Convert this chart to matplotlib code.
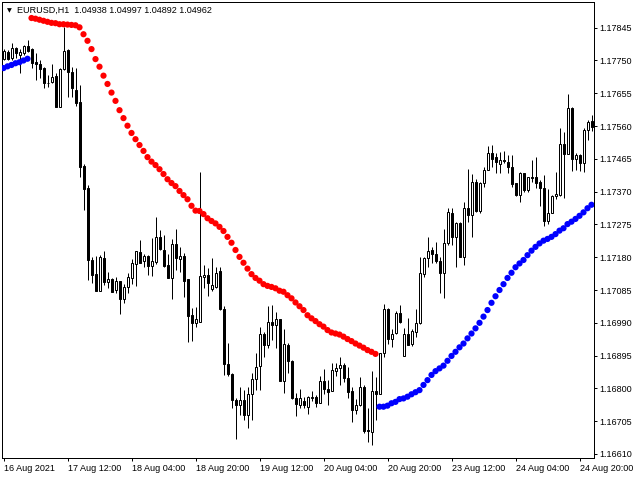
#!/usr/bin/python
# Redraw of an MT4 style H1 candle chart with a dotted trailing indicator.
# Red dots ride above price while the trend is down, blue ones below it
# while the trend is up.

import matplotlib
matplotlib.use("Agg")
import matplotlib.pyplot as plt
from matplotlib.patches import Rectangle

# header
symbol = "EURUSD,H1"
header_quote = [1.04938, 1.04997, 1.04892, 1.04962]

# time axis labels (every 16 bars)
xtick_bars = [0, 16, 32, 48, 64, 80, 96, 112, 128, 144]
xtick_labels = ["16 Aug 2021", "17 Aug 12:00", "18 Aug 04:00", "18 Aug 20:00",
                "19 Aug 12:00", "20 Aug 04:00", "20 Aug 20:00", "23 Aug 12:00",
                "24 Aug 04:00", "24 Aug 20:00"]

# price axis labels
price_ticks = [1.17845, 1.17750, 1.17655, 1.17560, 1.17465, 1.17370, 1.17275,
               1.17180, 1.17085, 1.16990, 1.16895, 1.16800, 1.16705, 1.16610]

# OHLC data, one value per H1 bar
opens = [
    1.17754, 1.17775, 1.17756, 1.17785, 1.17766, 1.17772, 1.17792, 1.17783, 1.17745, 1.17740,
    1.17727, 1.17685, 1.17688, 1.17705, 1.17616, 1.17724, 1.17780, 1.17717, 1.17664, 1.17630,
    1.17444, 1.17380, 1.17172, 1.17131, 1.17083, 1.17178, 1.17109, 1.17118, 1.17085, 1.17111,
    1.17058, 1.17093, 1.17119, 1.17159, 1.17194, 1.17169, 1.17183, 1.17154, 1.17167, 1.17238,
    1.17201, 1.17157, 1.17120, 1.17217, 1.17176, 1.17183, 1.17116, 1.17012, 1.16990, 1.16993,
    1.17122, 1.17128, 1.17087, 1.17094, 1.17140, 1.17029, 1.16870, 1.16841, 1.16766, 1.16752,
    1.16766, 1.16723, 1.16783, 1.16827, 1.16866, 1.16959, 1.16926, 1.16991, 1.16984, 1.17000,
    1.16822, 1.16926, 1.16879, 1.16771, 1.16752, 1.16763, 1.16747, 1.16773, 1.16776, 1.16758,
    1.16821, 1.16797, 1.16793, 1.16851, 1.16858, 1.16868, 1.16829, 1.16792, 1.16737, 1.16751,
    1.16803, 1.16679, 1.16674, 1.16792, 1.16784, 1.16902, 1.17029, 1.16942, 1.16961, 1.17019,
    1.16894, 1.16957, 1.16928, 1.16964, 1.16990, 1.17131, 1.17177, 1.17201, 1.17188, 1.17169,
    1.17133, 1.17222, 1.17307, 1.17239, 1.17280, 1.17181, 1.17322, 1.17302, 1.17399, 1.17315,
    1.17394, 1.17434, 1.17483, 1.17469, 1.17450, 1.17461, 1.17456, 1.17440, 1.17394, 1.17360,
    1.17423, 1.17375, 1.17411, 1.17413, 1.17397, 1.17382, 1.17286, 1.17309, 1.17357, 1.17360,
    1.17508, 1.17479, 1.17611, 1.17466, 1.17476, 1.17452, 1.17548, 1.17575]

highs = [
    1.17783, 1.17780, 1.17800, 1.17790, 1.17782, 1.17795, 1.17809, 1.17785, 1.17772, 1.17751,
    1.17730, 1.17708, 1.17740, 1.17714, 1.17727, 1.17846, 1.17782, 1.17730, 1.17727, 1.17679,
    1.17449, 1.17389, 1.17181, 1.17185, 1.17186, 1.17199, 1.17138, 1.17119, 1.17123, 1.17112,
    1.17102, 1.17135, 1.17174, 1.17199, 1.17230, 1.17188, 1.17186, 1.17235, 1.17296, 1.17259,
    1.17244, 1.17189, 1.17233, 1.17262, 1.17209, 1.17191, 1.17117, 1.17032, 1.17037, 1.17428,
    1.17157, 1.17148, 1.17177, 1.17151, 1.17151, 1.17038, 1.16932, 1.16844, 1.16771, 1.16805,
    1.16795, 1.16805, 1.16844, 1.16902, 1.16979, 1.16964, 1.17038, 1.17041, 1.17022, 1.17001,
    1.16971, 1.16932, 1.16882, 1.16786, 1.16797, 1.16774, 1.16778, 1.16793, 1.16781, 1.16836,
    1.16855, 1.16824, 1.16874, 1.16874, 1.16892, 1.16874, 1.16861, 1.16805, 1.16768, 1.16834,
    1.16810, 1.16742, 1.16850, 1.16834, 1.16903, 1.17044, 1.17032, 1.16971, 1.17025, 1.17041,
    1.16974, 1.17003, 1.16971, 1.17029, 1.17180, 1.17181, 1.17238, 1.17209, 1.17225, 1.17181,
    1.17261, 1.17322, 1.17324, 1.17281, 1.17281, 1.17341, 1.17437, 1.17421, 1.17408, 1.17399,
    1.17440, 1.17502, 1.17505, 1.17483, 1.17485, 1.17488, 1.17476, 1.17476, 1.17396, 1.17428,
    1.17425, 1.17413, 1.17461, 1.17469, 1.17403, 1.17418, 1.17377, 1.17360, 1.17428, 1.17553,
    1.17543, 1.17653, 1.17614, 1.17481, 1.17479, 1.17553, 1.17577, 1.17592]

lows = [
    1.17750, 1.17751, 1.17751, 1.17756, 1.17714, 1.17766, 1.17775, 1.17727, 1.17693, 1.17698,
    1.17669, 1.17674, 1.17685, 1.17614, 1.17614, 1.17722, 1.17645, 1.17645, 1.17618, 1.17413,
    1.17317, 1.17114, 1.17104, 1.17081, 1.17081, 1.17099, 1.17090, 1.17080, 1.17075, 1.17017,
    1.17048, 1.17075, 1.17102, 1.17096, 1.17163, 1.17151, 1.17128, 1.17125, 1.17160, 1.17201,
    1.17153, 1.17120, 1.17058, 1.17143, 1.17138, 1.17064, 1.16935, 1.16938, 1.16977, 1.16992,
    1.17090, 1.17067, 1.17083, 1.17090, 1.17028, 1.16839, 1.16836, 1.16742, 1.16652, 1.16723,
    1.16708, 1.16684, 1.16708, 1.16795, 1.16795, 1.16892, 1.16916, 1.16940, 1.16916, 1.16821,
    1.16786, 1.16844, 1.16770, 1.16720, 1.16742, 1.16742, 1.16726, 1.16764, 1.16745, 1.16757,
    1.16784, 1.16752, 1.16792, 1.16836, 1.16810, 1.16819, 1.16771, 1.16703, 1.16726, 1.16750,
    1.16670, 1.16645, 1.16636, 1.16708, 1.16783, 1.16890, 1.16930, 1.16919, 1.16959, 1.16990,
    1.16893, 1.16925, 1.16923, 1.16950, 1.16986, 1.17123, 1.17151, 1.17162, 1.17162, 1.17077,
    1.17061, 1.17215, 1.17215, 1.17152, 1.17180, 1.17157, 1.17283, 1.17239, 1.17312, 1.17309,
    1.17384, 1.17433, 1.17440, 1.17423, 1.17423, 1.17452, 1.17423, 1.17384, 1.17357, 1.17341,
    1.17370, 1.17370, 1.17399, 1.17382, 1.17328, 1.17270, 1.17276, 1.17307, 1.17350, 1.17357,
    1.17353, 1.17478, 1.17430, 1.17432, 1.17430, 1.17428, 1.17519, 1.17546]

closes = [
    1.17777, 1.17753, 1.17785, 1.17771, 1.17775, 1.17792, 1.17778, 1.17742, 1.17739, 1.17726,
    1.17685, 1.17684, 1.17703, 1.17616, 1.17724, 1.17777, 1.17717, 1.17669, 1.17628, 1.17442,
    1.17377, 1.17172, 1.17128, 1.17083, 1.17181, 1.17109, 1.17118, 1.17080, 1.17111, 1.17058,
    1.17094, 1.17122, 1.17162, 1.17198, 1.17164, 1.17183, 1.17154, 1.17169, 1.17238, 1.17203,
    1.17154, 1.17121, 1.17217, 1.17177, 1.17183, 1.17112, 1.17010, 1.16990, 1.17000, 1.17125,
    1.17128, 1.17106, 1.17099, 1.17133, 1.17029, 1.16870, 1.16841, 1.16766, 1.16752, 1.16766,
    1.16723, 1.16783, 1.16827, 1.16863, 1.16959, 1.16926, 1.16991, 1.16984, 1.17000, 1.16822,
    1.16928, 1.16880, 1.16771, 1.16755, 1.16771, 1.16752, 1.16776, 1.16776, 1.16758, 1.16821,
    1.16797, 1.16790, 1.16853, 1.16860, 1.16868, 1.16829, 1.16790, 1.16737, 1.16751, 1.16803,
    1.16676, 1.16676, 1.16792, 1.16784, 1.16902, 1.17029, 1.16942, 1.16957, 1.17019, 1.16993,
    1.16959, 1.16926, 1.16966, 1.16990, 1.17133, 1.17177, 1.17199, 1.17188, 1.17170, 1.17135,
    1.17222, 1.17312, 1.17239, 1.17280, 1.17181, 1.17322, 1.17302, 1.17399, 1.17315, 1.17394,
    1.17434, 1.17483, 1.17466, 1.17457, 1.17461, 1.17459, 1.17442, 1.17392, 1.17360, 1.17423,
    1.17375, 1.17411, 1.17410, 1.17396, 1.17382, 1.17286, 1.17309, 1.17357, 1.17362, 1.17508,
    1.17479, 1.17611, 1.17466, 1.17476, 1.17452, 1.17548, 1.17572, 1.17556]

# trailing indicator value per bar
trail = [
    1.17728, 1.17733, 1.17737, 1.17742, 1.17745, 1.17750, 1.17755, 1.17873, 1.17871, 1.17868,
    1.17865, 1.17862, 1.17859, 1.17858, 1.17855, 1.17855, 1.17854, 1.17853, 1.17852, 1.17846,
    1.17826, 1.17807, 1.17783, 1.17754, 1.17732, 1.17706, 1.17682, 1.17657, 1.17633, 1.17606,
    1.17583, 1.17561, 1.17540, 1.17522, 1.17505, 1.17488, 1.17470, 1.17457, 1.17447, 1.17435,
    1.17421, 1.17406, 1.17395, 1.17386, 1.17372, 1.17360, 1.17348, 1.17329, 1.17315, 1.17314,
    1.17305, 1.17293, 1.17285, 1.17278, 1.17268, 1.17256, 1.17239, 1.17222, 1.17201, 1.17181,
    1.17164, 1.17147, 1.17131, 1.17120, 1.17112, 1.17102, 1.17097, 1.17094, 1.17090, 1.17083,
    1.17080, 1.17070, 1.17061, 1.17049, 1.17038, 1.17027, 1.17012, 1.17003, 1.16995, 1.16986,
    1.16979, 1.16969, 1.16962, 1.16959, 1.16956, 1.16950, 1.16943, 1.16937, 1.16930, 1.16924,
    1.16918, 1.16911, 1.16906, 1.16900, 1.16747, 1.16747, 1.16750, 1.16757, 1.16761, 1.16769,
    1.16771, 1.16776, 1.16783, 1.16789, 1.16795, 1.16810, 1.16824, 1.16839, 1.16850, 1.16858,
    1.16866, 1.16880, 1.16894, 1.16906, 1.16919, 1.16930, 1.16945, 1.16959, 1.16974, 1.16990,
    1.17008, 1.17027, 1.17048, 1.17067, 1.17085, 1.17102, 1.17120, 1.17135, 1.17151, 1.17162,
    1.17172, 1.17186, 1.17199, 1.17210, 1.17220, 1.17228, 1.17233, 1.17239, 1.17247, 1.17257,
    1.17264, 1.17276, 1.17283, 1.17291, 1.17300, 1.17310, 1.17322, 1.17332]

FONT = ["Liberation Sans", "DejaVu Sans"]
FSIZE = 6.5
PX = 0.72  # one pixel in points at 100 dpi


def main():
    plt.rcParams["font.family"] = FONT
    fig, ax = create_figure()
    plot_candles(ax)
    plot_trail(ax)
    set_axes(ax)
    add_header(fig)
    fig.savefig("out.png", dpi=100)


def create_figure():
    """
    Figure with one axes laid out like the terminal window (pixel based).
    """
    fig = plt.figure(figsize=(6.4, 4.8), dpi=100)
    fig.patch.set_facecolor("white")
    ax = fig.add_axes([2/640, 22/480, 592/640, 456/480])
    ax.set_facecolor("white")
    return fig, ax


def plot_candles(ax):
    """
    Wicks as single lines, bull bodies hollow, bear bodies filled.
    """
    for i in range(len(opens)):
        o, h, l, c = opens[i], highs[i], lows[i], closes[i]
        ax.vlines(i, l, h, color="black", lw=PX, zorder=2)
        face = "white" if c >= o else "black"
        body = Rectangle((i - 0.25, min(o, c)), 0.5, abs(c - o),
                         facecolor=face, edgecolor="black", lw=PX,
                         zorder=3)
        ax.add_patch(body)


def plot_trail(ax):
    """
    Dots above price (downtrend) are red, below price (uptrend) blue.
    """
    colors = ["#0000ff" if t < c else "#ff0000" for t, c in zip(trail, closes)]
    ax.scatter(range(len(trail)), trail, s=20, c=colors, linewidths=0,
               zorder=4)


def set_axes(ax):
    """
    Price scale on the right, time scale at the bottom, no grid.
    """
    ax.set_xlim(-0.375, len(opens) - 0.375)
    ax.set_ylim(1.165984, 1.179194)

    ax.yaxis.tick_right()
    ax.set_yticks(price_ticks)
    ax.set_yticklabels(["%.5f" % p for p in price_ticks])
    ax.tick_params(axis="y", direction="out", length=2.5, width=PX,
                   pad=1.5, labelsize=FSIZE, colors="black")

    ax.set_xticks(xtick_bars)
    ax.set_xticklabels(xtick_labels, ha="left")
    ax.tick_params(axis="x", direction="out", length=2.5, width=PX,
                   pad=1.5, labelsize=FSIZE, colors="black")

    for sp in ax.spines.values():
        sp.set_color("black")
        sp.set_linewidth(PX)


def add_header(fig):
    """
    Symbol, timeframe and last OHLC in the top left corner.
    """
    fig.text(9.5/640, 1 - 11/480, "\u25bc", fontsize=4.5, family="DejaVu Sans",
             ha="center", va="center")
    quote = " ".join("%.5f" % v for v in header_quote)
    fig.text(17/640, 1 - 10.7/480, symbol + "  " + quote, fontsize=FSIZE,
             ha="left", va="center")


if __name__ == "__main__":
    main()
